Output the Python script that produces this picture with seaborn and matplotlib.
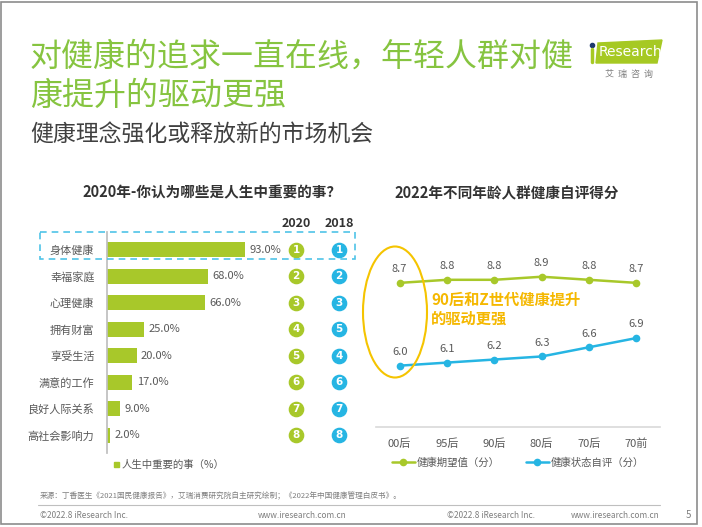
import numpy as np
import pandas as pd
import matplotlib
matplotlib.use("Agg")
import matplotlib.pyplot as plt
import seaborn as sns
from matplotlib.patches import Rectangle, Ellipse, Polygon

# ---- data ----
things = ["身体健康", "幸福家庭", "心理健康", "拥有财富", "享受生活", "满意的工作", "良好人际关系", "高社会影响力"]
share_2020 = [93.0, 68.0, 66.0, 25.0, 20.0, 17.0, 9.0, 2.0]
rank_2020 = [1, 2, 3, 4, 5, 6, 7, 8]
rank_2018 = [1, 2, 3, 5, 4, 6, 7, 8]

ages = ["00后", "95后", "90后", "80后", "70后", "70前"]
expected_score = [8.7, 8.8, 8.8, 8.9, 8.8, 8.7]
self_score = [6.0, 6.1, 6.2, 6.3, 6.6, 6.9]

GREEN = "#a8c82a"
BLUE = "#26b5e3"
TITLE_GREEN = "#86c440"
GRAY = "#595959"

sns.set_theme(style="white")
plt.rcParams["font.family"] = ["Noto Sans CJK SC", "DejaVu Sans"]

W, H = 702, 527
fig = plt.figure(figsize=(W / 100, H / 100), dpi=100)


def box(x0, y0, x1, y1):
    # pixel box (top-left origin) -> figure fraction rect
    return [x0 / W, 1 - y1 / H, (x1 - x0) / W, (y1 - y0) / H]


# ---- left chart: bars ----
ax = fig.add_axes(box(107, 232, 255, 453))
ax.patch.set_visible(False)
df_bar = pd.DataFrame({"thing": things, "share": share_2020})
sns.barplot(data=df_bar, x="share", y="thing", color=GREEN, width=0.58, ax=ax,
            saturation=1, edgecolor="none")
ax.set_xlim(0, 100)
ax.set_xlabel("")
ax.set_ylabel("")
ax.set_xticks([])
for s in ["top", "right", "bottom"]:
    ax.spines[s].set_visible(False)
ax.spines["left"].set_color("#bfbfbf")
ax.tick_params(axis="y", length=0, pad=9, labelsize=8, labelcolor=GRAY)
for i, v in enumerate(share_2020):
    ax.text(v + 3, i, f"{v:.1f}%", fontsize=8, color=GRAY, va="center")

# rank circles (x in data units: 2020 column / 2018 column)
x20, x18 = (296 - 107) / 1.48, (339 - 107) / 1.48
rows = np.arange(len(things))
ax.scatter([x20] * len(rows), rows, s=105, color=GREEN, clip_on=False, zorder=3)
ax.scatter([x18] * len(rows), rows, s=105, color=BLUE, clip_on=False, zorder=3)
for i in rows:
    ax.text(x20, i, str(rank_2020[i]), color="white", fontsize=7.5, fontweight="bold",
            ha="center", va="center", family="DejaVu Sans", clip_on=False)
    ax.text(x18, i, str(rank_2018[i]), color="white", fontsize=7.5, fontweight="bold",
            ha="center", va="center", family="DejaVu Sans", clip_on=False)
ax.text(x20, -1.0, "2020", fontsize=9, fontweight="bold", color="#333333", ha="center", va="center")
ax.text(x18, -1.0, "2018", fontsize=9, fontweight="bold", color="#333333", ha="center", va="center")

# ---- right chart: lines ----
ax2 = fig.add_axes(box(376, 243, 660, 427))
ax2.patch.set_visible(False)
df_line = pd.DataFrame({
    "pos": list(range(len(ages))) * 2,
    "score": expected_score + self_score,
    "series": ["健康期望值（分）"] * len(ages) + ["健康状态自评（分）"] * len(ages),
})
sns.lineplot(data=df_line, x="pos", y="score", hue="series",
             palette=[GREEN, BLUE], marker="o", markersize=5.5, markeredgewidth=0,
             linewidth=1.8, ax=ax2)
ax2.set_xlim(-0.5, len(ages) - 0.5)
ax2.set_ylim(4, 10)
ax2.set_xticks(range(len(ages)))
ax2.set_xticklabels(ages)
ax2.set_yticks([])
ax2.set_xlabel("")
ax2.set_ylabel("")
for s in ["top", "right", "left"]:
    ax2.spines[s].set_visible(False)
ax2.spines["bottom"].set_color("#d9d9d9")
ax2.spines["bottom"].set_linewidth(1.2)
ax2.tick_params(axis="x", length=0, pad=8, labelsize=8, labelcolor=GRAY)
for i in range(len(ages)):
    ax2.text(i, expected_score[i] + 0.28, f"{expected_score[i]:.1f}", fontsize=8,
             color=GRAY, ha="center", va="bottom")
    ax2.text(i, self_score[i] + 0.28, f"{self_score[i]:.1f}", fontsize=8,
             color=GRAY, ha="center", va="bottom")
ax2.legend(ncol=2, frameon=False, loc="upper center", bbox_to_anchor=(0.5, -0.115),
           fontsize=7.5, labelcolor=GRAY, handlelength=2.2, handletextpad=0.2,
           columnspacing=2.5)

# overlay for page decorations, in pixel coordinates (on top)
deco = fig.add_axes([0, 0, 1, 1], zorder=5)
deco.patch.set_visible(False)
deco.set_xlim(0, W)
deco.set_ylim(H, 0)
deco.axis("off")
deco.add_patch(Rectangle((1, 2), 696, 522, fill=False, ec="#8c8c8c", lw=1.2))

deco.text(30, 57, "对健康的追求一直在线，年轻人群对健", fontsize=23, color=TITLE_GREEN, va="center")
deco.text(30, 96, "康提升的驱动更强", fontsize=23, color=TITLE_GREEN, va="center")
deco.text(30, 134, "健康理念强化或释放新的市场机会", fontsize=16.5, color="#404040", va="center")

# iResearch logo
deco.add_patch(Polygon([[598, 43], [662, 40], [657, 63], [596, 63]], closed=True, color="#a6c923"))
deco.text(599, 52, "Research", fontsize=10, color="white", va="center", family="DejaVu Sans")
deco.plot([591.5], [45], "o", ms=3, color="#1f3a6e")
deco.plot([591.5, 591.5], [49, 62], color="#a6c923", lw=2.5)
deco.text(629, 74, "艾  瑞  咨  询", fontsize=6.5, color="#7f7f7f", ha="center", va="center")

deco.text(212, 192, "2020年-你认为哪些是人生中重要的事？", fontsize=10.5, fontweight="bold",
          color="#333333", ha="center", va="center")
deco.add_patch(Rectangle((40, 232), 315, 27, fill=False, ec="#4fc3e8", lw=1.2, ls=(0, (4, 3))))
deco.add_patch(Rectangle((114, 462), 5, 5, color=GREEN))
deco.text(122, 465, "人生中重要的事（%）", fontsize=7.5, color=GRAY, va="center")

deco.text(507, 193, "2022年不同年龄人群健康自评得分", fontsize=10.5, fontweight="bold",
          color="#333333", ha="center", va="center")
deco.add_patch(Ellipse((395, 312), 64, 131, fill=False, ec="#f5c400", lw=1.5))
deco.text(431, 309, "90后和Z世代健康提升\n的驱动更强", fontsize=11, fontweight="bold",
          color="#f5b800", va="center", linespacing=1.2)

# ---- footer ----
deco.text(40, 496, "来源：丁香医生《2021国民健康报告》，艾瑞消费研究院自主研究绘制；《2022年中国健康管理白皮书》。",
          fontsize=5.5, color="#7f7f7f", va="center")
deco.plot([38, 660], [505, 505], color="#bfbfbf", lw=0.8)
deco.text(40, 515, "©2022.8 iResearch Inc.", fontsize=6, color="#7f7f7f", va="center")
deco.text(258, 515, "www.iresearch.com.cn", fontsize=6, color="#7f7f7f", va="center")
deco.text(447, 515, "©2022.8 iResearch Inc.", fontsize=6, color="#7f7f7f", va="center")
deco.text(660, 515, "www.iresearch.com.cn", fontsize=6, color="#7f7f7f", va="center", ha="right")
deco.text(686, 515, "5", fontsize=7, color="#7f7f7f", va="center")

fig.savefig("out.png", dpi=100)
